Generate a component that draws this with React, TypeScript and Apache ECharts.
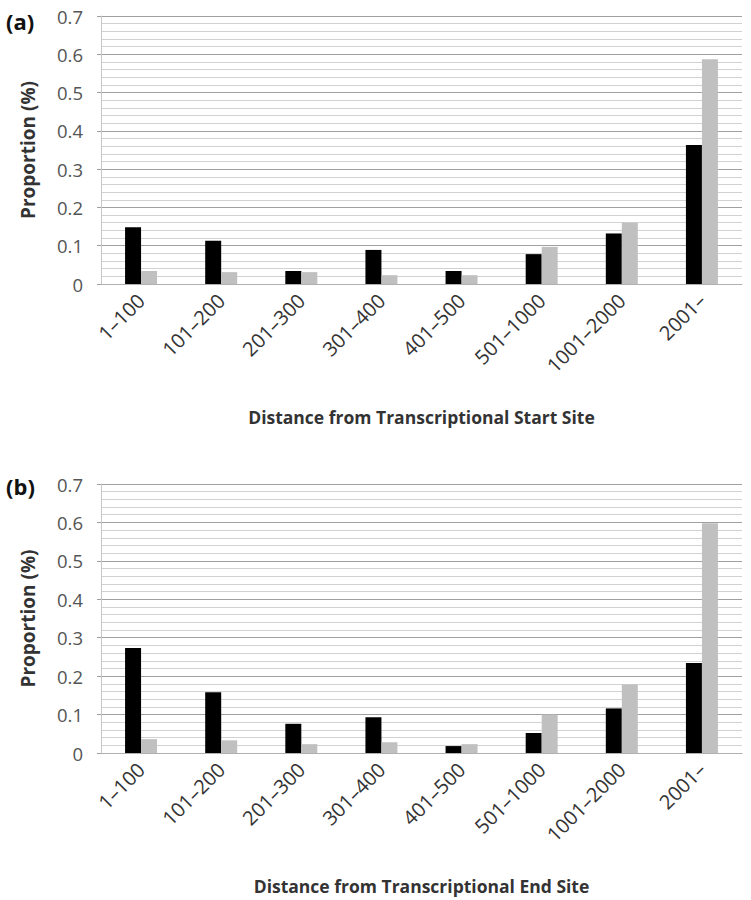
import React, { useEffect, useRef } from "react";
import * as echarts from "echarts";

const categories = ["1–100", "101–200", "201–300", "301–400", "401–500", "501–1000", "1001–2000", "2001–"];
const startBlack = [0.148, 0.113, 0.034, 0.089, 0.034, 0.078, 0.132, 0.363];
const startGray = [0.034, 0.031, 0.031, 0.023, 0.023, 0.097, 0.16, 0.587];
const endBlack = [0.273, 0.158, 0.076, 0.093, 0.018, 0.052, 0.116, 0.234];
const endGray = [0.036, 0.033, 0.023, 0.028, 0.023, 0.1, 0.178, 0.598];
const yTicks = ["0", "0.1", "0.2", "0.3", "0.4", "0.5", "0.6", "0.7"];
const xTitles = ["Distance from Transcriptional Start Site", "Distance from Transcriptional End Site"];
const yTitle = "Proportion (%)";
const panelLabels = ["(a)", "(b)"];

const FONT = "Open Sans";

export default function App() {
  const ref = useRef<HTMLDivElement>(null);
  useEffect(() => {
    document.body.style.margin = "0";
    const chart = echarts.init(ref.current!, undefined, { renderer: "svg" });
    const grids = [
      { left: 101, right: 9, top: 16, height: 268 },
      { left: 101, right: 9, top: 484, height: 269 },
    ];
    const xAxes = grids.map((_, i) => ({
      type: "category",
      gridIndex: i,
      data: categories,
      axisLine: { lineStyle: { color: "#b0b0b0", width: 1 } },
      axisTick: { show: false },
      axisLabel: {
        rotate: 45,
        margin: 13,
        fontFamily: FONT,
        fontSize: 20,
        color: "#333333",
      },
      name: xTitles[i],
      nameLocation: "middle",
      nameGap: 124,
      nameTextStyle: { fontFamily: FONT, fontSize: 17.5, fontWeight: "bold", color: "#333333" },
    }));
    const yAxes = grids.map((_, i) => ({
      type: "value",
      gridIndex: i,
      min: 0,
      max: 0.7,
      interval: 0.1,
      axisLine: { show: true, lineStyle: { color: "#c8c8c8" } },
      axisTick: { show: true, length: 4, lineStyle: { color: "#a0a0a0" } },
      axisLabel: {
        margin: 18,
        fontFamily: FONT,
        fontSize: 18.5,
        color: "#555555",
        formatter: (v: number) => yTicks[Math.round(v * 10)] ?? "",
      },
      splitLine: { show: true, lineStyle: { color: "#a0a0a0", width: 1 } },
      minorTick: { show: false, splitNumber: 5 },
      minorSplitLine: { show: true, lineStyle: { color: "#d2d2d2", width: 1 } },
      name: yTitle,
      nameLocation: "middle",
      nameGap: 64,
      nameTextStyle: { fontFamily: FONT, fontSize: 19, fontWeight: "bold", color: "#333333" },
    }));
    const mk = (data: number[], color: string, idx: number) => ({
      type: "bar",
      xAxisIndex: idx,
      yAxisIndex: idx,
      data,
      barWidth: 16,
      barGap: "0%",
      itemStyle: { color },
    });
    chart.setOption({
      animation: false,
      backgroundColor: "#ffffff",
      grid: grids,
      xAxis: xAxes,
      yAxis: yAxes,
      series: [
        mk(startBlack, "#000000", 0),
        mk(startGray, "#c0c0c0", 0),
        mk(endBlack, "#000000", 1),
        mk(endGray, "#c0c0c0", 1),
      ],
      graphic: [
        {
          type: "text",
          left: 6,
          top: 10,
          style: { text: panelLabels[0], fontFamily: FONT, fontSize: 22, fontWeight: "bold", fill: "#111" },
        },
        {
          type: "text",
          left: 6,
          top: 475,
          style: { text: panelLabels[1], fontFamily: FONT, fontSize: 22, fontWeight: "bold", fill: "#111" },
        },
      ],
    });
    return () => chart.dispose();
  }, []);
  return <div ref={ref} style={{ width: 751, height: 900 }} />;
}
